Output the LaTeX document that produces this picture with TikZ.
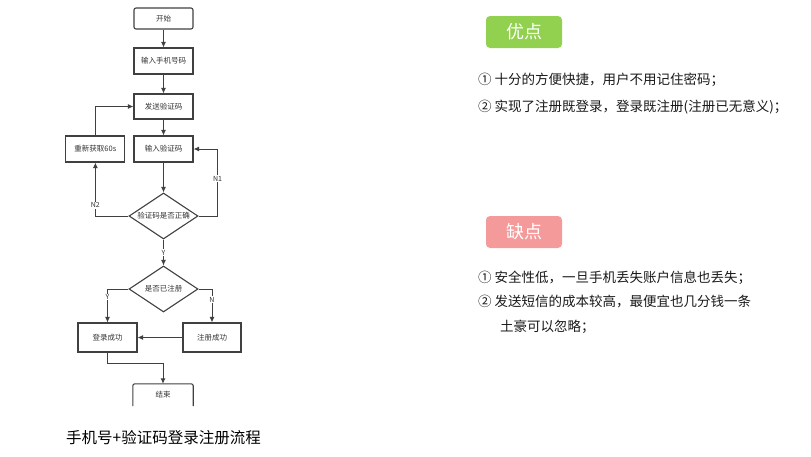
\documentclass[tikz,border=0pt]{standalone}
\usepackage{fontspec}
\setmainfont{Noto Sans CJK SC}
\usepackage{xcolor}
\usetikzlibrary{arrows.meta,positioning,shapes.geometric}
\definecolor{progreen}{HTML}{92D050}
\definecolor{conpink}{HTML}{F59A9B}
\begin{document}
\begin{tikzpicture}[
  x=1pt,y=1pt,
  every node/.style={font=\fontsize{7.5}{8}\selectfont,text=black!80,inner sep=0pt},
  box/.style={draw=black!75,line width=1.1pt,minimum width=59pt,minimum height=26pt},
  terminal/.style={box,rounded corners=2pt,minimum height=21pt},
  decision/.style={diamond,draw=black!75,line width=1.1pt,aspect=1.5,
                   minimum width=69pt,minimum height=46pt},
  flow/.style={-{Latex[length=5.5pt,width=5pt]},line width=0.9pt,draw=black!75},
  tag/.style={fill=white,inner sep=0.8pt,font=\fontsize{7}{7}\selectfont},
  badge/.style={rounded corners=4pt,minimum width=76pt,minimum height=32pt,
                text=white,font=\fontsize{18}{20}\selectfont},
  item/.style={anchor=west,text=black!90,font=\fontsize{13.5}{15}\selectfont}
]
\useasboundingbox (0,0) rectangle (811,-456);
\node[terminal] (start) at (163.5,-18.5) {开始};
\node[box] (phone) at (163.5,-61) {输入手机号码};
\node[box,minimum height=25pt] (send) at (163.5,-106.5) {发送验证码};
\node[box] (input) at (163.5,-149) {输入验证码};
\node[box,left=8pt of input] (retry) {重新获取60s};
\node[decision] (check) at (163.5,-216) {验证码是否正确};
\node[decision] (registered) at (163.5,-289) {是否已注册};
\node[box,minimum height=29pt] (login) at (107.5,-337.5) {登录成功};
\node[box,minimum width=58pt,minimum height=29pt] (signup) at (212,-337.5) {注册成功};
\node[minimum width=60pt,minimum height=22pt] (finish) at (163,-395) {结束};
\node[font=\fontsize{15.5}{17}\selectfont,text=black] (title) at (163.5,-438)
  {手机号+验证码登录注册流程};
\node[badge,fill=progreen] (pros) at (524,-32) {优点};
\node[item] (pro1) at (478,-80) {① 十分的方便快捷，用户不用记住密码；};
\node[item] (pro2) at (478,-107) {② 实现了注册既登录，登录既注册(注册已无意义)；};
\node[badge,fill=conpink] (cons) at (524,-232) {缺点};
\node[item] (con1) at (478,-278) {① 安全性低，一旦手机丢失账户信息也丢失；};
\node[item] (con2) at (478,-302) {② 发送短信的成本较高，最便宜也几分钱一条};
\node[item] (con3) at (500,-327) {土豪可以忽略；};
\draw[draw=black!75,line width=1.1pt,rounded corners=2pt]
  (finish.south west) -- (finish.north west) -- (finish.north east) -- (finish.south east);
\draw[flow] (start) -- (phone);
\draw[flow] (phone) -- (send);
\draw[flow] (send) -- (input);
\draw[flow] (input) -- (check);
\draw[flow] (check.east) -- ++(19,0) |- node[tag,pos=0.28] {N1} (input.east);
\draw[flow] (check.west) -| node[tag,pos=0.6] {N2} (retry.south);
\draw[flow] (retry.north) |- (send.west);
\draw[flow] (check.south) -- node[tag] {Y} (registered.north);
\draw[flow] (registered.west) -| node[tag,pos=0.62] {Y} (login.north);
\draw[flow] (registered.east) -| node[tag,pos=0.66] {N} (signup.north);
\draw[flow] (signup.west) -- (login.east);
\draw[flow] (login.south) -- ++(0,-11) -| (finish.north);
\end{tikzpicture}
\end{document}
